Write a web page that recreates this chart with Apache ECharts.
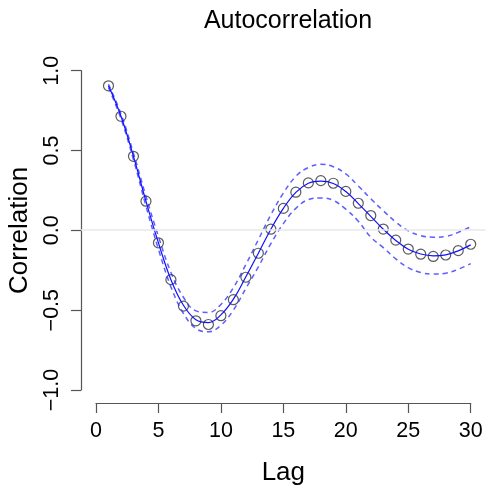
<!doctype html>
<html>
	<head>
		<meta charset="UTF-8">
		<title>Autocorrelation</title>
		<script src="https://cdn.jsdelivr.net/npm/echarts@6/dist/echarts.min.js"></script>
		<style>
			html, body { margin: 0; padding: 0; background: #fff; }
			#chart { width: 488px; height: 486px; }
		</style>
	</head>
	<body>
		<div id="chart"></div>
		<script type="text/javascript">
			// lags and sample acf (circles)
			var lags = [1, 2, 3, 4, 5, 6, 7, 8, 9, 10, 11, 12, 13, 14, 15, 16, 17, 18, 19, 20, 21, 22, 23, 24, 25, 26, 27, 28, 29, 30];
			var acf = [0.90, 0.71, 0.46, 0.18, -0.08, -0.31, -0.475, -0.567, -0.59, -0.535, -0.435, -0.295, -0.145, 0.005, 0.135, 0.236, 0.294, 0.308, 0.292, 0.241, 0.167, 0.09, 0.006, -0.063, -0.119, -0.151, -0.165, -0.156, -0.129, -0.089];
			// blue solid line
			var theory = [0.90, 0.71, 0.46, 0.18, -0.08, -0.31, -0.47, -0.56, -0.578, -0.53, -0.432, -0.292, -0.145, 0.005, 0.135, 0.235, 0.292, 0.305, 0.29, 0.24, 0.165, 0.085, 0.005, -0.065, -0.12, -0.15, -0.161, -0.155, -0.13, -0.093];
			// dashed bands
			var upper = [0.91, 0.725, 0.48, 0.21, -0.04, -0.265, -0.42, -0.505, -0.515, -0.465, -0.36, -0.215, -0.06, 0.095, 0.23, 0.335, 0.39, 0.41, 0.395, 0.35, 0.275, 0.195, 0.12, 0.05, -0.005, -0.035, -0.045, -0.04, -0.015, 0.02];
			var lower = [0.89, 0.695, 0.44, 0.15, -0.12, -0.355, -0.52, -0.615, -0.635, -0.595, -0.50, -0.365, -0.23, -0.085, 0.04, 0.135, 0.19, 0.20, 0.185, 0.13, 0.055, -0.045, -0.11, -0.18, -0.235, -0.265, -0.275, -0.27, -0.245, -0.21];
			// ticks
			var xTicks = [0, 5, 10, 15, 20, 25, 30];
			var yTicks = [-1.0, -0.5, 0.0, 0.5, 1.0];
			var yTickLabels = ['\u22121.0', '\u22120.5', '0.0', '0.5', '1.0'];

			var font = '"Liberation Sans", Arial, Helvetica, sans-serif';

			function pairs(ys) {
				var out = [];
				for (var i = 0; i < lags.length; i++) out.push([lags[i], ys[i]]);
				return out;
			}

			var bandStyle = { color: 'rgba(40,40,255,0.75)', width: 1.5, type: [5, 4] };

			var option = {
				animation: false,
				backgroundColor: '#fff',
				title: {
					text: 'Autocorrelation',
					left: 283,
					top: 4,
					textAlign: 'center',
					textStyle: { fontFamily: font, fontSize: 25, fontWeight: 'normal', color: '#000' }
				},
				grid: [
					// data region (R plot region with 4% padding)
					{ left: 81, right: 2.3, top: 57, bottom: 83, outerBoundsMode: 'none', containLabel: false },
					// axis region spanning only the tick range
					{ left: 96, right: 17.3, top: 70.7, bottom: 96, outerBoundsMode: 'none', containLabel: false }
				],
				xAxis: [{
					gridIndex: 0, type: 'value', min: -1.2, max: 31.2, show: false
				}, {
					gridIndex: 1, type: 'value', min: xTicks[0], max: xTicks[xTicks.length - 1], interval: 5,
					offset: 13,
					name: 'Lag', nameLocation: 'middle', nameGap: 57,
					nameTextStyle: { fontFamily: font, fontSize: 26, color: '#000' },
					axisLine: { show: true, onZero: false, lineStyle: { color: '#555', width: 1.2 } },
					axisTick: { show: true, length: 10, lineStyle: { color: '#555', width: 1.2 } },
					axisLabel: { fontFamily: font, fontSize: 21.5, color: '#000', margin: 17 },
					splitLine: { show: false }
				}],
				yAxis: [{
					gridIndex: 0, type: 'value', min: -1.08, max: 1.08, show: false
				}, {
					gridIndex: 1, type: 'value', min: yTicks[0], max: yTicks[yTicks.length - 1], interval: 0.5,
					offset: 15,
					name: 'Correlation', nameLocation: 'middle', nameGap: 41, nameRotate: 90,
					nameTextStyle: { fontFamily: font, fontSize: 26, color: '#000' },
					axisLine: { show: true, onZero: false, lineStyle: { color: '#555', width: 1.2 } },
					axisTick: { show: true, length: 10, lineStyle: { color: '#555', width: 1.2 } },
					axisLabel: {
						fontFamily: font, fontSize: 21.5, color: '#000', margin: 18, rotate: 90,
						formatter: function (v) {
							var i = yTicks.indexOf(Math.round(v * 10) / 10);
							return i >= 0 ? yTickLabels[i] : '';
						}
					},
					splitLine: { show: false }
				}],
				series: [{
					type: 'line', xAxisIndex: 0, yAxisIndex: 0, data: [], silent: true,
					markLine: {
						silent: true, symbol: 'none', label: { show: false },
						lineStyle: { color: '#e8e8e8', width: 1.5, type: 'solid' },
						data: [{ yAxis: 0 }]
					}
				}, {
					type: 'line', xAxisIndex: 0, yAxisIndex: 0, data: pairs(upper),
					showSymbol: false, smooth: 0.4, lineStyle: bandStyle
				}, {
					type: 'line', xAxisIndex: 0, yAxisIndex: 0, data: pairs(lower),
					showSymbol: false, smooth: 0.4, lineStyle: bandStyle
				}, {
					type: 'line', xAxisIndex: 0, yAxisIndex: 0, data: pairs(theory),
					showSymbol: false, smooth: 0.4, lineStyle: { color: '#1010ff', width: 1.2 }
				}, {
					type: 'scatter', xAxisIndex: 0, yAxisIndex: 0, data: pairs(acf),
					symbol: 'circle', symbolSize: 10,
					itemStyle: { color: 'rgba(0,0,0,0)', borderColor: '#333', borderWidth: 1.2 }
				}]
			};

			var chart = echarts.init(document.getElementById('chart'));
			chart.setOption(option);
		</script>
	</body>
</html>
